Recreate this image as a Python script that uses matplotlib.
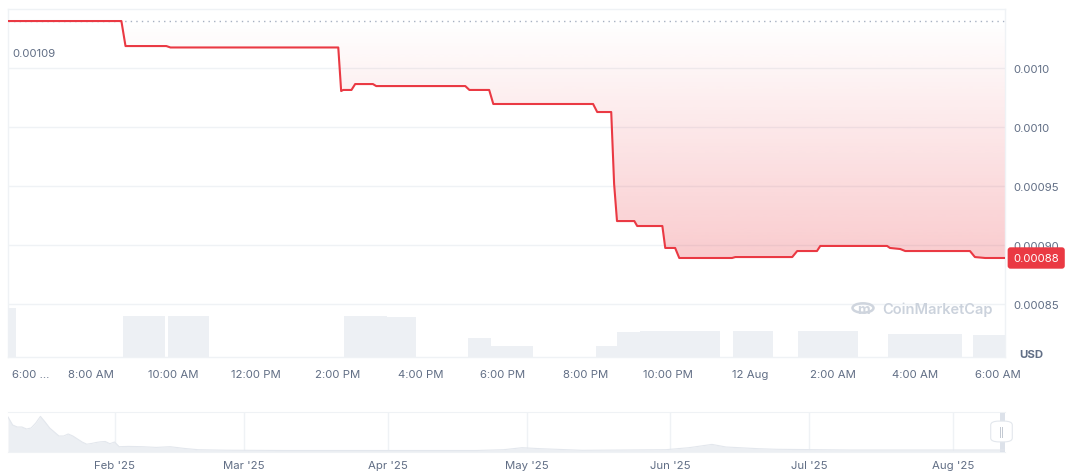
import matplotlib.pyplot as plt
import matplotlib.dates as mdates
import numpy as np
import pandas as pd
from matplotlib.patches import PathPatch, Circle, FancyBboxPatch

plt.rcParams['font.family'] = ['Inter', 'DejaVu Sans']

# ---- 24h price (hours after 6:00 AM, 11 Aug) ----------------------------------
hours = [0.00, 2.75, 2.85, 3.84, 3.94, 8.01, 8.08, 8.13, 8.33, 8.42,
         8.85, 8.93, 11.09, 11.19, 11.67, 11.77, 14.19, 14.29, 14.63, 14.70,
         14.77, 15.19, 15.26, 15.87, 15.94, 16.18, 16.28, 17.56, 17.64, 19.02,
         19.14, 19.62, 19.70, 21.32, 21.39, 21.64, 21.76, 23.33, 23.45, 23.70,
         24.18]
price = [0.0010898, 0.0010898, 0.0010686, 0.0010686, 0.0010674, 0.0010674, 0.0010305, 0.0010314, 0.0010314, 0.0010364,
         0.0010364, 0.0010347, 0.0010347, 0.0010314, 0.0010314, 0.0010195, 0.0010195, 0.0010127, 0.0010127, 0.0009517,
         0.0009203, 0.0009203, 0.0009161, 0.0009161, 0.0008975, 0.0008975, 0.0008890, 0.0008890, 0.0008898, 0.0008898,
         0.0008949, 0.0008949, 0.0008992, 0.0008992, 0.0008975, 0.0008966, 0.0008949, 0.0008949, 0.0008898, 0.0008890,
         0.0008890]
open_price = 0.0010898
open_label = '0.00109'
last_label = '0.00088'

# ---- volume blocks (relative units) -------------------------------------------
vol_start = [0.00, 2.80, 3.89, 8.16, 9.18, 11.16, 11.72, 14.27, 14.78, 15.33, 17.59, 19.16, 21.35, 23.40]
vol_end = [0.20, 3.80, 4.88, 9.18, 9.90, 11.72, 12.74, 14.78, 15.33, 17.27, 18.56, 20.62, 23.14, 24.18]
volume = [49, 41, 41, 41, 40, 19, 11, 11, 25, 26, 26, 26, 23, 22]

x_ticks = [0, 2, 4, 6, 8, 10, 12, 14, 16, 18, 20, 22, 24]
x_labels = ['6:00 ...', '8:00 AM', '10:00 AM', '12:00 PM', '2:00 PM', '4:00 PM', '6:00 PM',
            '8:00 PM', '10:00 PM', '12 Aug', '2:00 AM', '4:00 AM', '6:00 AM']
y_ticks = [0.00085, 0.00090, 0.00095, 0.00100, 0.00105]
y_labels = ['0.00085', '0.00090', '0.00095', '0.0010', '0.0010']

# ---- navigator (full history, relative level) ---------------------------------
nav_dates = ['2025-01-09', '2025-01-10', '2025-01-11', '2025-01-12', '2025-01-13', '2025-01-14',
             '2025-01-15', '2025-01-16', '2025-01-17', '2025-01-18', '2025-01-19', '2025-01-20',
             '2025-01-21', '2025-01-22', '2025-01-23', '2025-01-24', '2025-01-25', '2025-01-26',
             '2025-01-27', '2025-01-28', '2025-01-29', '2025-01-30', '2025-01-31', '2025-02-01',
             '2025-02-02', '2025-02-04', '2025-02-07', '2025-02-10', '2025-02-13', '2025-02-16',
             '2025-02-19', '2025-02-25', '2025-03-10', '2025-04-01', '2025-04-20', '2025-04-26',
             '2025-04-30', '2025-05-04', '2025-05-13', '2025-05-31', '2025-06-05', '2025-06-10',
             '2025-06-13', '2025-06-20', '2025-06-24', '2025-07-10', '2025-08-12']
nav_level = [35, 27, 25, 25, 23, 24, 29, 35.6, 30, 24, 20, 16,
             16, 18, 16, 13, 10, 7.8, 8.5, 9.5, 10.2, 10.5, 8.3, 10,
             5.3, 5.6, 5.3, 4.6, 5.3, 3.6, 2.3, 1.8, 1.5, 1.5, 1.5, 2.3,
             4.3, 3.3, 1.7, 2.3, 4.3, 7.6, 5, 3.3, 2.7, 2, 2]
month_starts = ['2025-02-01', '2025-03-01', '2025-04-01', '2025-05-01', '2025-06-01', '2025-07-01', '2025-08-01']
month_labels = ["Feb '25", "Mar '25", "Apr '25", "May '25", "Jun '25", "Jul '25", "Aug '25"]

RED = '#ea3943'
GRID = '#eff2f5'
TXT = '#616e85'
W, H = 1072, 477

fig = plt.figure(figsize=(W / 100, H / 100), dpi=100)


def box(l, t, r, b):
    return [l / W, 1 - b / H, (r - l) / W, (b - t) / H]


# ---- price panel ---------------------------------------------------------------
ax = fig.add_axes(box(8, 10, 1005, 358))
xmax = 24.18
for s in ax.spines.values():
    s.set_color(GRID)
    s.set_linewidth(1)
ax.set_yticks(y_ticks)
ax.set_yticklabels(y_labels)
ax.yaxis.tick_right()
ax.tick_params(axis='y', length=0, pad=6, labelsize=8.2, labelcolor=TXT)
ax.set_xticks(x_ticks)
ax.set_xticklabels([''] + x_labels[1:])
ax.tick_params(axis='x', length=0, pad=8.5, labelsize=8.2, labelcolor=TXT)
ax.annotate(x_labels[0], xy=(0, 0), xycoords='axes fraction', xytext=(3, -12.3),
            textcoords='offset points', fontsize=8.2, color=TXT, ha='left', va='center')
ax.grid(axis='y', color=GRID, lw=1)
ax.set_axisbelow(True)

# gradient fill between the line and the opening price
poly = ax.fill_between(hours, price, open_price, facecolor='none', edgecolor='none')
clip = PathPatch(poly.get_paths()[0], transform=ax.transData, facecolor='none', edgecolor='none')
ax.add_patch(clip)
grad = np.zeros((256, 1, 4))
grad[..., 0:3] = np.array([234, 57, 67]) / 255
grad[:, 0, 3] = np.linspace(0.26, 0.0, 256)
im = ax.imshow(grad, extent=[0, xmax, min(price), open_price], origin='lower',
               aspect='auto', zorder=1, interpolation='bilinear')
im.set_clip_path(clip)
ax.set_xlim(0, xmax)
ax.set_ylim(0.0008051, 0.0011)

ax.axhline(open_price, color='#a7b1c2', lw=1, ls=(0, (1, 3)), zorder=2)
ax.plot(hours, price, color=RED, lw=1.5, zorder=3, solid_joinstyle='round')

ax.text(4 / 997, open_price - 0.0000275, open_label, transform=ax.get_yaxis_transform(),
        fontsize=8.2, color=TXT, ha='left', va='center')
ax.annotate(last_label, xy=(1, price[-1]), xycoords=('axes fraction', 'data'),
            xytext=(6, 0), textcoords='offset points', fontsize=8.2, color='white',
            ha='left', va='center', zorder=10,
            bbox=dict(boxstyle='round,pad=0.5,rounding_size=0.25', fc=RED, ec='none'))

# ---- volume bars ----------------------------------------------------------------
axv = fig.add_axes(box(8, 309, 1005, 358))
axv.set_xlim(0, xmax)
axv.set_ylim(0, max(volume))
axv.bar(vol_start, volume, width=np.subtract(vol_end, vol_start), align='edge',
        color='#edf0f4', lw=0)
axv.axis('off')
axv.patch.set_visible(False)

# watermark and currency
fig.add_artist(Circle((863 / W, 1 - 309 / H), 10.5 / W, transform=fig.transFigure,
                      fill=False, ec='#cfd5de', lw=1.8))
fig.text(863 / W, 1 - 310 / H, 'm', fontsize=10, color='#cfd5de', ha='center', va='center',
         fontweight='bold')
fig.text(882 / W, 1 - 310 / H, 'CoinMarketCap', fontsize=10.5, color='#cbd2dc',
         ha='left', va='center', fontweight='semibold')
fig.text(1019 / W, 1 - 355 / H, 'USD', fontsize=8.2, color=TXT, ha='left', va='center',
         fontweight='bold')

# ---- navigator ----------------------------------------------------------------
axn = fig.add_axes(box(8, 413, 1005, 453))
nd = mdates.date2num(pd.to_datetime(nav_dates))
axn.fill_between(nd, nav_level, 0, color='#eceff3', lw=0)
axn.plot(nd, nav_level, color='#e3e7ed', lw=0.8)
axn.set_xlim(mdates.date2num(pd.Timestamp('2025-01-09')),
             mdates.date2num(pd.Timestamp('2025-08-12 06:00')))
axn.set_ylim(0, 40)
ms = mdates.date2num(pd.to_datetime(month_starts))
axn.set_xticks(ms)
axn.set_xticklabels(month_labels)
axn.tick_params(axis='x', length=0, pad=6, labelsize=8.2, labelcolor=TXT)
axn.set_yticks([])
axn.grid(axis='x', color=GRID, lw=1)
axn.set_axisbelow(True)
for k, s in axn.spines.items():
    s.set_color(GRID)
    s.set_visible(k in ('top', 'bottom'))
sel0 = mdates.date2num(pd.Timestamp('2025-08-11 06:00'))
axn.axvspan(sel0, axn.get_xlim()[1], color='#dde2ea', lw=0)
fig.add_artist(FancyBboxPatch((995 / W, 1 - 441 / H), 13 / W, 17 / H,
                              boxstyle='round,pad=0.004,rounding_size=0.008',
                              transform=fig.transFigure, fc='white', ec='#e3e7ed', lw=0.8))
fig.text(1001.5 / W, 1 - 433 / H, '||', fontsize=6, color='#a0a9b8', ha='center', va='center')

plt.savefig('out.png', dpi=100)
